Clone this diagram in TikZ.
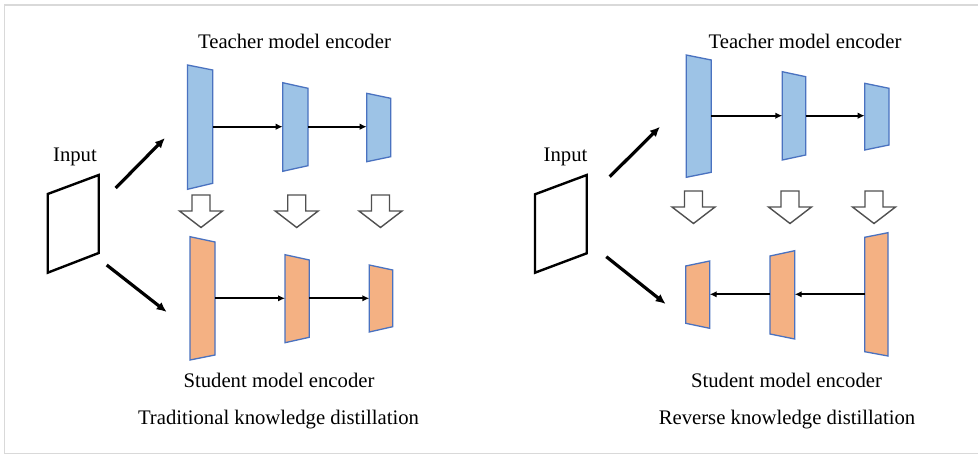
\documentclass[tikz,border=0pt]{standalone}
\usepackage{fontspec}
\setmainfont{Liberation Serif}
\usetikzlibrary{arrows.meta}
\definecolor{tfill}{HTML}{9DC3E6}
\definecolor{sfill}{HTML}{F4B183}
\definecolor{edgeblue}{HTML}{4A72C0}
\definecolor{framegray}{HTML}{D9D9D9}
\definecolor{hollowgray}{HTML}{505050}
% encoder layer as a trapezoid: name, fill, x-left, x-right, y top-left, y top-right, y bottom-right, y bottom-left
\newcommand\enclayer[8]{%
  \draw[layerline, fill=#2] (#3,#5) -- (#4,#6) -- (#4,#7) -- (#3,#8) -- cycle;}
% hollow transfer arrow pointing down: centre x, top y
\newcommand\hollowdown[2]{%
  \draw[hollowarrow] ({#1-9},#2) -- ({#1+9},#2) -- ({#1+9},{#2+16}) -- ({#1+21.5},{#2+16})
    -- (#1,{#2+32.5}) -- ({#1-21.5},{#2+16}) -- ({#1-9},{#2+16}) -- cycle;}
\tikzset{
  lbl/.style={font=\fontsize{20.7}{24}\selectfont, anchor=base, inner sep=0pt},
  layerline/.style={draw=edgeblue, line width=1.3pt, line join=miter},
  flow/.style={draw=black, line width=2pt, -{Latex[length=7pt,width=6.5pt]}},
  feed/.style={draw=black, line width=3.2pt, -{Latex[length=10pt,width=9pt]}},
  inbox/.style={draw=black, line width=2.4pt, line join=miter},
  hollowarrow/.style={draw=hollowgray, line width=1.4pt, fill=white, line join=miter},
}
\begin{document}
\begin{tikzpicture}[x=1pt, y=-1pt]
\useasboundingbox (0,0) rectangle (978,455);
\fill[white] (0,0) rectangle (978,455);
% outer frame (open on the right)
\draw[framegray, line width=1.5pt] (978,5) -- (4.5,5) -- (4.5,453.5) -- (978,453.5);

% ---------------- traditional knowledge distillation ----------------
\node[lbl] (lteach) at (294.5,48.3) {Teacher model encoder};
\node[lbl] (linput) at (75,161.7) {Input};
\node[lbl] (lstud) at (279,387.3) {Student model encoder};
\node[lbl] (ltitle) at (278.5,424.5) {Traditional knowledge distillation};

\draw[inbox] (47.7,194) -- (98.7,175) -- (98.7,253) -- (47.7,272.7) -- cycle;
\coordinate (lin-up) at (115.7,188);
\coordinate (lin-upend) at (165,138);
\coordinate (lin-dn) at (106.7,265);
\coordinate (lin-dnend) at (166.7,312);
\draw[feed] (lin-up) -- (lin-upend);
\draw[feed] (lin-dn) -- (lin-dnend);

\enclayer{lt1}{tfill}{187.5}{212.7}{65}{70}{183.3}{189.3}
\enclayer{lt2}{tfill}{282.7}{308}{82.7}{88.3}{165.7}{171.3}
\enclayer{lt3}{tfill}{366.7}{390.7}{93.3}{98.3}{156.7}{161.7}
\coordinate (lt1e) at (212.7,126.7);
\coordinate (lt2w) at (282.7,126.7);
\coordinate (lt2e) at (308,126.7);
\coordinate (lt3w) at (366.7,126.7);
\draw[flow] (lt1e) -- (lt2w);
\draw[flow] (lt2e) -- (lt3w);

\hollowdown{201}{195}
\hollowdown{296.7}{195}
\hollowdown{380.5}{195}

\enclayer{ls1}{sfill}{190}{215}{236.7}{242}{355}{360}
\enclayer{ls2}{sfill}{285}{309.3}{254.7}{260}{337.3}{342.7}
\enclayer{ls3}{sfill}{369.3}{392.7}{265}{270}{326.7}{332}
\coordinate (ls1e) at (215,298.3);
\coordinate (ls2w) at (285,298.3);
\coordinate (ls2e) at (309.3,298.3);
\coordinate (ls3w) at (369.3,298.3);
\draw[flow] (ls1e) -- (ls2w);
\draw[flow] (ls2e) -- (ls3w);

% ---------------- reverse knowledge distillation ----------------
\node[lbl] (rteach) at (805,48.3) {Teacher model encoder};
\node[lbl] (rinput) at (565.5,161.7) {Input};
\node[lbl] (rstud) at (786.5,387.3) {Student model encoder};
\node[lbl] (rtitle) at (787,424.5) {Reverse knowledge distillation};

\draw[inbox] (535,194.3) -- (586.7,175) -- (586.7,253.3) -- (535,272.7) -- cycle;
\coordinate (rin-up) at (609.7,176.7);
\coordinate (rin-upend) at (660,126.7);
\coordinate (rin-dn) at (606.3,256.7);
\coordinate (rin-dnend) at (665.7,304);
\draw[feed] (rin-up) -- (rin-upend);
\draw[feed] (rin-dn) -- (rin-dnend);

\enclayer{rt1}{tfill}{686.3}{711.3}{55}{60}{172.3}{177.3}
\enclayer{rt2}{tfill}{782.3}{805.7}{71.7}{76.7}{155}{160}
\enclayer{rt3}{tfill}{864.7}{889}{83.3}{88.3}{145}{150}
\coordinate (rt1e) at (711.3,115.7);
\coordinate (rt2w) at (782.3,115.7);
\coordinate (rt2e) at (805.7,115.7);
\coordinate (rt3w) at (864.7,115.7);
\draw[flow] (rt1e) -- (rt2w);
\draw[flow] (rt2e) -- (rt3w);

\hollowdown{693.5}{191}
\hollowdown{790}{191}
\hollowdown{874}{191}

\enclayer{rs1}{sfill}{685.7}{709.7}{266}{261}{328.3}{323.3}
\enclayer{rs2}{sfill}{770}{794.7}{256}{250.7}{339}{334}
\enclayer{rs3}{sfill}{864.7}{888}{237.3}{232.7}{356}{351.7}
\coordinate (rs3w) at (864.7,294.3);
\coordinate (rs2e) at (794.7,294.3);
\coordinate (rs2w) at (770,294.3);
\coordinate (rs1e) at (709.7,294.3);
\draw[flow] (rs3w) -- (rs2e);
\draw[flow] (rs2w) -- (rs1e);
\end{tikzpicture}
\end{document}
